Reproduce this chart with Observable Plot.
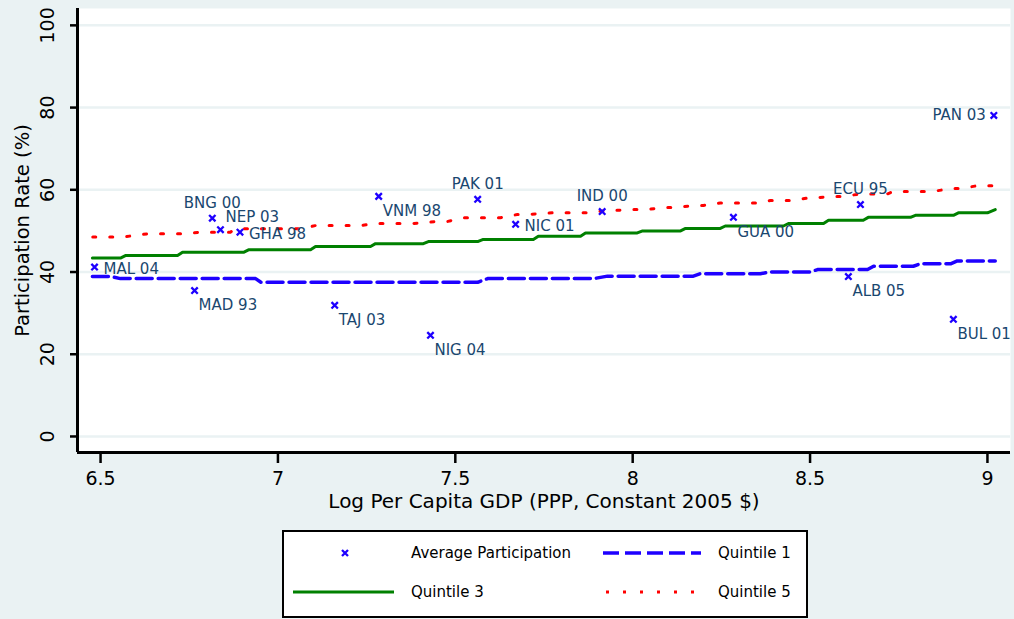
<!DOCTYPE html>
<html>
<head>
<meta charset="utf-8">
<script src="https://cdn.jsdelivr.net/npm/d3@7"></script>
<script src="https://cdn.jsdelivr.net/npm/@observablehq/plot@0.6"></script>
<style>
html,body{margin:0;padding:0;background:#eaf2f3;width:1014px;height:619px;overflow:hidden;font-family:"DejaVu Sans",sans-serif}
#chart{position:absolute;left:0;top:0}
#legend{position:absolute;left:282px;top:530px;width:522px;height:84px;border:2px solid #000;background:#fff}
#legend svg{position:absolute;left:0;top:0}
</style>
</head>
<body>
<div id="chart"></div>
<div id="legend"></div>
<script>
// ---- Data ----
const xTicks = [6.5, 7, 7.5, 8, 8.5, 9];
const yTicks = [0, 20, 40, 60, 80, 100];

// Average participation (country-year)
const countries = ["MAL 04","BNG 00","NEP 03","GHA 98","MAD 93","TAJ 03","VNM 98","NIG 04","PAK 01","NIC 01","IND 00","GUA 00","ECU 95","ALB 05","BUL 01","PAN 03"];
const logGdp    = [6.483, 6.815, 6.838, 6.893, 6.765, 7.160, 7.284, 7.430, 7.563, 7.670, 7.914, 8.284, 8.642, 8.608, 8.904, 9.018];
const avgPart   = [41.2, 53.1, 50.3, 49.7, 35.5, 31.9, 58.4, 24.6, 57.7, 51.6, 54.7, 53.3, 56.4, 38.9, 28.5, 78.1];
const labelClock = [3, 12, 1, 3, 5, 5, 5, 5, 12, 3, 12, 5, 12, 5, 5, 9];

// Quintile lines: step segments (start x, end x, level)
const q1Start = [6.477, 6.556, 6.952, 7.591, 7.929, 8.191, 8.388, 8.521, 8.679, 8.811, 8.915];
const q1End   = [6.528, 6.937, 7.563, 7.890, 8.171, 8.360, 8.501, 8.662, 8.791, 8.896, 9.022];
const q1Level = [38.9, 38.4, 37.5, 38.4, 39.0, 39.6, 40.0, 40.6, 41.4, 42.0, 42.7];

const q3Start = [6.477, 6.570, 6.731, 6.917, 7.106, 7.275, 7.424, 7.577, 7.734, 7.867, 8.028, 8.149, 8.261, 8.439, 8.552, 8.664, 8.797, 8.918, 9.022];
const q3End   = [6.556, 6.717, 6.903, 7.092, 7.261, 7.410, 7.563, 7.720, 7.853, 8.013, 8.135, 8.247, 8.425, 8.538, 8.650, 8.783, 8.904, 9.000, 9.022];
const q3Level = [43.4, 44.0, 44.8, 45.4, 46.2, 46.9, 47.4, 47.9, 48.7, 49.5, 50.0, 50.6, 51.2, 51.8, 52.6, 53.3, 53.8, 54.4, 55.2];

const q5Start = [6.478, 6.632, 6.782, 6.880, 7.106, 7.275, 7.450, 7.523, 7.675, 7.774, 7.929, 8.002, 8.087, 8.171, 8.247, 8.388, 8.501, 8.566, 8.642, 8.735, 8.896, 8.972];
const q5End   = [6.562, 6.734, 6.866, 7.064, 7.233, 7.382, 7.478, 7.627, 7.703, 7.875, 7.957, 8.042, 8.126, 8.199, 8.352, 8.450, 8.524, 8.594, 8.718, 8.847, 8.924, 9.025];
const q5Level = [48.5, 49.3, 49.7, 50.5, 51.3, 51.8, 52.3, 53.2, 54.0, 54.4, 55.0, 55.2, 55.7, 56.2, 56.8, 57.4, 58.1, 58.4, 59.0, 59.6, 60.3, 61.0];

// ---- Build tables ----
const pts = countries.map((c, i) => ({name: c, x: logGdp[i], y: avgPart[i], pos: labelClock[i]}));
function stepLine(st, en, lv) {
  const out = [];
  st.forEach((s, i) => { out.push({x: s, y: lv[i]}); out.push({x: en[i], y: lv[i]}); });
  return out;
}
const q1 = stepLine(q1Start, q1End, q1Level);
const q3 = stepLine(q3Start, q3End, q3Level);
const q5 = stepLine(q5Start, q5End, q5Level);

const BLUE = "#1e00ff", GREEN = "#008000", RED = "#ff0000", LAB = "#1a476f", BG = "#eaf2f3";
const xDom = [6.435, 9.065], yDom = [-3.9, 104.1];

const labelStyle = {
  12: {textAnchor: "middle", dx: 0, dy: -15},
  1:  {textAnchor: "start", dx: 5, dy: -12},
  3:  {textAnchor: "start", dx: 9, dy: 2},
  5:  {textAnchor: "start", dx: 4, dy: 15},
  9:  {textAnchor: "end", dx: -8, dy: 0}
};
const labelMarks = Object.keys(labelStyle).map(k => Plot.text(pts.filter(d => d.pos === +k), {
  x: "x", y: "y", text: "name", fill: LAB, fontSize: 15, ...labelStyle[k]
}));

const chart = Plot.plot({
  width: 1014, height: 527,
  marginLeft: 77, marginRight: 4, marginTop: 8, marginBottom: 75,
  x: {domain: xDom},
  y: {domain: yDom},
  style: {background: "transparent", fontFamily: "DejaVu Sans", fontSize: "18px", color: "#000"},
  marks: [
    Plot.frame({fill: "white", stroke: null}),
    Plot.gridY(yTicks, {stroke: BG, strokeOpacity: 1, strokeWidth: 2.5}),
    Plot.line(q1, {x: "x", y: "y", stroke: BLUE, strokeWidth: 3.5, strokeDasharray: "16,6"}),
    Plot.line(q3, {x: "x", y: "y", stroke: GREEN, strokeWidth: 3}),
    Plot.line(q5, {x: "x", y: "y", stroke: RED, strokeWidth: 3, strokeDasharray: "3,14"}),
    Plot.dot(pts, {x: "x", y: "y", symbol: "times", r: 3, stroke: BLUE, strokeWidth: 2.3}),
    ...labelMarks,
    Plot.ruleX([xDom[0]], {stroke: "#000", strokeWidth: 3}),
    Plot.ruleY([yDom[0]], {stroke: "#000", strokeWidth: 3}),
    Plot.axisX(xTicks, {tickSize: 11, tickPadding: 8, fontSize: 19, strokeWidth: 2.5, label: null, tickFormat: d => String(d)}),
    Plot.axisY(yTicks, {tickSize: 7, strokeWidth: 2.5, label: null, text: null}),
    Plot.text(yTicks, {frameAnchor: "left", y: d => d, text: d => String(d), rotate: -90, textAnchor: "middle", dx: -30, fontSize: 19, fill: "#000"}),
    Plot.text(["Log Per Capita GDP (PPP, Constant 2005 $)"], {frameAnchor: "bottom", textAnchor: "middle", dy: 55, text: d => d, fontSize: 20, fill: "#000"}),
    Plot.text(["Participation Rate (%)"], {frameAnchor: "left", textAnchor: "middle", dx: -55, rotate: -90, text: d => d, fontSize: 19.5, fill: "#000"})
  ]
});
document.getElementById("chart").appendChild(chart);

// ---- Legend ----
const lg = d3.select("#legend").append("svg").attr("width", 522).attr("height", 84)
  .style("font-family", "DejaVu Sans").style("font-size", "15px");
const r1 = 21, r2 = 60;
lg.append("path").attr("d", `M${61-3},${r1-3}L${61+3},${r1+3}M${61-3},${r1+3}L${61+3},${r1-3}`)
  .attr("stroke", BLUE).attr("stroke-width", 2.3);
lg.append("text").attr("x", 127).attr("y", r1).attr("dy", "0.35em").text("Average Participation");
lg.append("line").attr("x1", 319).attr("x2", 417).attr("y1", r1).attr("y2", r1)
  .attr("stroke", BLUE).attr("stroke-width", 3.5).attr("stroke-dasharray", "16,6");
lg.append("text").attr("x", 434).attr("y", r1).attr("dy", "0.35em").text("Quintile 1");
lg.append("line").attr("x1", 9).attr("x2", 110).attr("y1", r2).attr("y2", r2)
  .attr("stroke", GREEN).attr("stroke-width", 3);
lg.append("text").attr("x", 127).attr("y", r2).attr("dy", "0.35em").text("Quintile 3");
lg.append("line").attr("x1", 322).attr("x2", 414).attr("y1", r2).attr("y2", r2)
  .attr("stroke", RED).attr("stroke-width", 3).attr("stroke-dasharray", "3,14");
lg.append("text").attr("x", 434).attr("y", r2).attr("dy", "0.35em").text("Quintile 5");
</script>
</body>
</html>
